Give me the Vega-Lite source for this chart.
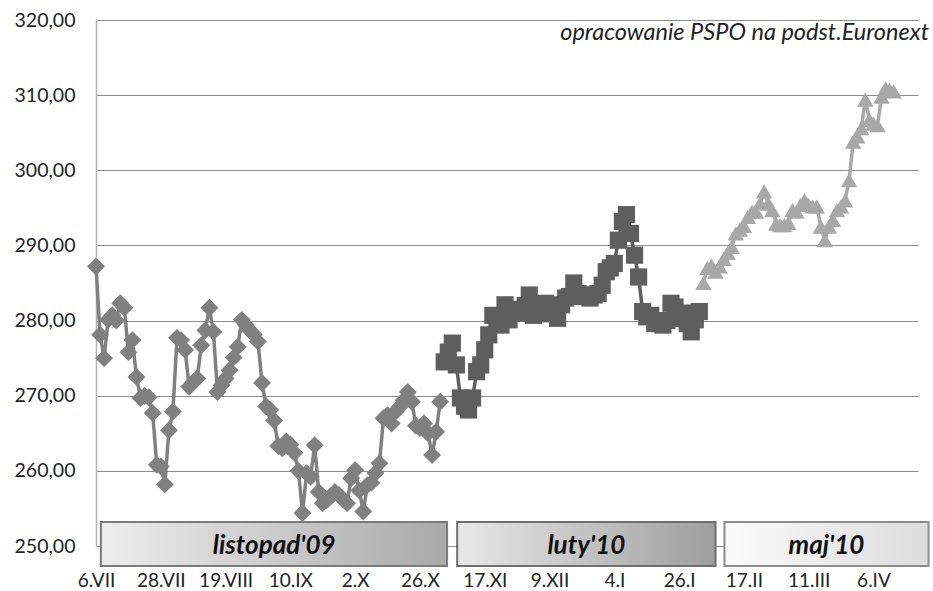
{
  "$schema": "https://vega.github.io/schema/vega-lite/v6.json",
  "width": 822,
  "height": 526,
  "autosize": "none",
  "padding": {"left": 96, "top": 20, "right": 15, "bottom": 45},
  "background": "white",
  "config": {"view": {"stroke": null}, "font": "Lato"},
  "datasets": {
    "prices": [
      {"n":0,"p":287.2,"c":"listopad'09"},{"n":1,"p":278.1,"c":"listopad'09"},{"n":2,"p":275.0,"c":"listopad'09"},{"n":3,"p":280.1,"c":"listopad'09"},{"n":4,"p":280.7,"c":"listopad'09"},{"n":5,"p":280.0,"c":"listopad'09"},{"n":6,"p":282.3,"c":"listopad'09"},{"n":7,"p":281.7,"c":"listopad'09"},{"n":8,"p":275.8,"c":"listopad'09"},{"n":9,"p":277.4,"c":"listopad'09"},
      {"n":10,"p":272.5,"c":"listopad'09"},{"n":11,"p":269.7,"c":"listopad'09"},{"n":12,"p":270.0,"c":"listopad'09"},{"n":13,"p":269.8,"c":"listopad'09"},{"n":14,"p":267.7,"c":"listopad'09"},{"n":15,"p":260.8,"c":"listopad'09"},{"n":16,"p":260.6,"c":"listopad'09"},{"n":17,"p":258.2,"c":"listopad'09"},{"n":18,"p":265.4,"c":"listopad'09"},{"n":19,"p":267.9,"c":"listopad'09"},
      {"n":20,"p":277.7,"c":"listopad'09"},{"n":21,"p":277.4,"c":"listopad'09"},{"n":22,"p":276.1,"c":"listopad'09"},{"n":23,"p":271.2,"c":"listopad'09"},{"n":24,"p":271.8,"c":"listopad'09"},{"n":25,"p":272.3,"c":"listopad'09"},{"n":26,"p":276.7,"c":"listopad'09"},{"n":27,"p":278.7,"c":"listopad'09"},{"n":28,"p":281.7,"c":"listopad'09"},{"n":29,"p":278.5,"c":"listopad'09"},
      {"n":30,"p":270.5,"c":"listopad'09"},{"n":31,"p":271.4,"c":"listopad'09"},{"n":32,"p":272.3,"c":"listopad'09"},{"n":33,"p":273.4,"c":"listopad'09"},{"n":34,"p":275.1,"c":"listopad'09"},{"n":35,"p":276.5,"c":"listopad'09"},{"n":36,"p":280.1,"c":"listopad'09"},{"n":37,"p":279.4,"c":"listopad'09"},{"n":38,"p":278.7,"c":"listopad'09"},{"n":39,"p":278.1,"c":"listopad'09"},
      {"n":40,"p":277.2,"c":"listopad'09"},{"n":41,"p":271.7,"c":"listopad'09"},{"n":42,"p":268.6,"c":"listopad'09"},{"n":43,"p":268.1,"c":"listopad'09"},{"n":44,"p":266.7,"c":"listopad'09"},{"n":45,"p":263.3,"c":"listopad'09"},{"n":46,"p":263.0,"c":"listopad'09"},{"n":47,"p":263.9,"c":"listopad'09"},{"n":48,"p":263.5,"c":"listopad'09"},{"n":49,"p":262.4,"c":"listopad'09"},
      {"n":50,"p":260.0,"c":"listopad'09"},{"n":51,"p":254.4,"c":"listopad'09"},{"n":52,"p":259.7,"c":"listopad'09"},{"n":53,"p":259.2,"c":"listopad'09"},{"n":54,"p":263.4,"c":"listopad'09"},{"n":55,"p":257.2,"c":"listopad'09"},{"n":56,"p":255.7,"c":"listopad'09"},{"n":57,"p":256.1,"c":"listopad'09"},{"n":58,"p":256.6,"c":"listopad'09"},{"n":59,"p":257.2,"c":"listopad'09"},
      {"n":60,"p":256.8,"c":"listopad'09"},{"n":61,"p":256.2,"c":"listopad'09"},{"n":62,"p":255.7,"c":"listopad'09"},{"n":63,"p":259.0,"c":"listopad'09"},{"n":64,"p":260.1,"c":"listopad'09"},{"n":65,"p":257.4,"c":"listopad'09"},{"n":66,"p":254.6,"c":"listopad'09"},{"n":67,"p":258.1,"c":"listopad'09"},{"n":68,"p":258.4,"c":"listopad'09"},{"n":69,"p":259.7,"c":"listopad'09"},
      {"n":70,"p":261.0,"c":"listopad'09"},{"n":71,"p":267.0,"c":"listopad'09"},{"n":72,"p":267.4,"c":"listopad'09"},{"n":73,"p":266.3,"c":"listopad'09"},{"n":74,"p":267.9,"c":"listopad'09"},{"n":75,"p":268.5,"c":"listopad'09"},{"n":76,"p":269.4,"c":"listopad'09"},{"n":77,"p":270.5,"c":"listopad'09"},{"n":78,"p":269.2,"c":"listopad'09"},{"n":79,"p":266.0,"c":"listopad'09"},
      {"n":80,"p":265.7,"c":"listopad'09"},{"n":81,"p":266.3,"c":"listopad'09"},{"n":82,"p":265.0,"c":"listopad'09"},{"n":83,"p":262.1,"c":"listopad'09"},{"n":84,"p":265.2,"c":"listopad'09"},{"n":85,"p":269.2,"c":"listopad'09"},
      {"n":86,"p":274.5,"c":"luty'10"},{"n":87,"p":275.8,"c":"luty'10"},{"n":88,"p":277.0,"c":"luty'10"},{"n":89,"p":274.1,"c":"luty'10"},
      {"n":90,"p":269.7,"c":"luty'10"},{"n":91,"p":268.6,"c":"luty'10"},{"n":92,"p":268.1,"c":"luty'10"},{"n":93,"p":269.7,"c":"luty'10"},{"n":94,"p":273.2,"c":"luty'10"},{"n":95,"p":274.1,"c":"luty'10"},{"n":96,"p":276.1,"c":"luty'10"},{"n":97,"p":278.1,"c":"luty'10"},{"n":98,"p":280.7,"c":"luty'10"},{"n":99,"p":279.6,"c":"luty'10"},
      {"n":100,"p":279.4,"c":"luty'10"},{"n":101,"p":282.1,"c":"luty'10"},{"n":102,"p":280.1,"c":"luty'10"},{"n":103,"p":281.2,"c":"luty'10"},{"n":104,"p":281.5,"c":"luty'10"},{"n":105,"p":281.0,"c":"luty'10"},{"n":106,"p":282.0,"c":"luty'10"},{"n":107,"p":283.4,"c":"luty'10"},{"n":108,"p":280.7,"c":"luty'10"},{"n":109,"p":281.6,"c":"luty'10"},
      {"n":110,"p":280.9,"c":"luty'10"},{"n":111,"p":282.3,"c":"luty'10"},{"n":112,"p":281.8,"c":"luty'10"},{"n":113,"p":281.0,"c":"luty'10"},{"n":114,"p":280.3,"c":"luty'10"},{"n":115,"p":282.1,"c":"luty'10"},{"n":116,"p":283.0,"c":"luty'10"},{"n":117,"p":283.2,"c":"luty'10"},{"n":118,"p":285.0,"c":"luty'10"},{"n":119,"p":283.6,"c":"luty'10"},
      {"n":120,"p":283.4,"c":"luty'10"},{"n":121,"p":283.2,"c":"luty'10"},{"n":122,"p":283.0,"c":"luty'10"},{"n":123,"p":283.4,"c":"luty'10"},{"n":124,"p":283.6,"c":"luty'10"},{"n":125,"p":284.7,"c":"luty'10"},{"n":126,"p":286.5,"c":"luty'10"},{"n":127,"p":287.0,"c":"luty'10"},{"n":128,"p":287.6,"c":"luty'10"},{"n":129,"p":290.7,"c":"luty'10"},
      {"n":130,"p":293.2,"c":"luty'10"},{"n":131,"p":294.1,"c":"luty'10"},{"n":132,"p":291.6,"c":"luty'10"},{"n":133,"p":288.7,"c":"luty'10"},{"n":134,"p":285.8,"c":"luty'10"},{"n":135,"p":281.2,"c":"luty'10"},{"n":136,"p":280.5,"c":"luty'10"},{"n":137,"p":280.7,"c":"luty'10"},{"n":138,"p":279.6,"c":"luty'10"},{"n":139,"p":279.9,"c":"luty'10"},
      {"n":140,"p":279.4,"c":"luty'10"},{"n":141,"p":280.0,"c":"luty'10"},{"n":142,"p":282.3,"c":"luty'10"},{"n":143,"p":281.8,"c":"luty'10"},{"n":144,"p":280.3,"c":"luty'10"},{"n":145,"p":281.0,"c":"luty'10"},{"n":146,"p":279.6,"c":"luty'10"},{"n":147,"p":278.5,"c":"luty'10"},{"n":148,"p":280.1,"c":"luty'10"},{"n":149,"p":281.2,"c":"luty'10"},
      {"n":150,"p":285.0,"c":"maj'10"},{"n":151,"p":287.0,"c":"maj'10"},{"n":152,"p":287.3,"c":"maj'10"},{"n":153,"p":286.5,"c":"maj'10"},{"n":154,"p":287.2,"c":"maj'10"},{"n":155,"p":288.2,"c":"maj'10"},{"n":156,"p":289.0,"c":"maj'10"},{"n":157,"p":289.8,"c":"maj'10"},{"n":158,"p":291.6,"c":"maj'10"},{"n":159,"p":292.1,"c":"maj'10"},
      {"n":160,"p":292.6,"c":"maj'10"},{"n":161,"p":293.8,"c":"maj'10"},{"n":162,"p":294.5,"c":"maj'10"},{"n":163,"p":294.5,"c":"maj'10"},{"n":164,"p":295.6,"c":"maj'10"},{"n":165,"p":297.2,"c":"maj'10"},{"n":166,"p":295.6,"c":"maj'10"},{"n":167,"p":294.7,"c":"maj'10"},{"n":168,"p":292.9,"c":"maj'10"},{"n":169,"p":292.7,"c":"maj'10"},
      {"n":170,"p":292.7,"c":"maj'10"},{"n":171,"p":293.0,"c":"maj'10"},{"n":172,"p":294.7,"c":"maj'10"},{"n":173,"p":294.5,"c":"maj'10"},{"n":174,"p":295.4,"c":"maj'10"},{"n":175,"p":296.0,"c":"maj'10"},{"n":176,"p":295.4,"c":"maj'10"},{"n":177,"p":295.2,"c":"maj'10"},{"n":178,"p":295.2,"c":"maj'10"},{"n":179,"p":292.5,"c":"maj'10"},
      {"n":180,"p":290.7,"c":"maj'10"},{"n":181,"p":292.5,"c":"maj'10"},{"n":182,"p":293.4,"c":"maj'10"},{"n":183,"p":294.7,"c":"maj'10"},{"n":184,"p":295.2,"c":"maj'10"},{"n":185,"p":296.0,"c":"maj'10"},{"n":186,"p":298.7,"c":"maj'10"},{"n":187,"p":303.8,"c":"maj'10"},{"n":188,"p":304.5,"c":"maj'10"},{"n":189,"p":305.6,"c":"maj'10"},
      {"n":190,"p":309.4,"c":"maj'10"},{"n":191,"p":306.7,"c":"maj'10"},{"n":192,"p":306.2,"c":"maj'10"},{"n":193,"p":306.0,"c":"maj'10"},{"n":194,"p":309.8,"c":"maj'10"},{"n":195,"p":310.9,"c":"maj'10"},{"n":196,"p":310.7,"c":"maj'10"},{"n":197,"p":310.5,"c":"maj'10"}
    ],
    "contracts": [
      {"c":"listopad'09","start":1.2,"end":86.7,"mid":44},
      {"c":"luty'10","start":89.2,"end":153,"mid":121.1},
      {"c":"maj'10","start":155.2,"end":205.6,"mid":180.4}
    ]
  },
  "layer": [
    {
      "data": {"name": "prices"},
      "mark": {"type": "line", "strokeWidth": 3.5},
      "encoding": {
        "x": {"field": "n", "type": "quantitative", "title": null,
          "scale": {"domain": [0, 203], "nice": false, "zero": false},
          "axis": {"title": null, "values": [0,16,32,48,64,80,96,112,128,144,160,176,192],
            "labelExpr": "['6.VII','28.VII','19.VIII','10.IX','2.X','26.X','17.XI','9.XII','4.I','26.I','17.II','11.III','6.IV'][datum.value/16]",
            "grid": false, "ticks": false, "labelPadding": 25, "labelFontSize": 19, "labelColor": "#222222",
            "labelFont": "Lato", "domainColor": "#8c8c8c", "labelFlush": false, "labelOverlap": false, "labelAngle": 0}},
        "y": {"field": "p", "type": "quantitative", "title": null,
          "scale": {"domain": [250, 320], "nice": false, "zero": false},
          "axis": {"title": null, "values": [250,260,270,280,290,300,310,320],
            "labelExpr": "replace(format(datum.value, '.2f'), '.', ',')",
            "grid": true, "gridColor": "#8c8c8c", "gridWidth": 1, "ticks": false, "labelPadding": 21,
            "labelFontSize": 19.5, "labelColor": "#222222", "labelFont": "Lato",
            "domainColor": "#b4b4b4", "domainWidth": 1.5}},
        "color": {"field": "c", "type": "nominal",
          "scale": {"domain": ["listopad'09", "luty'10", "maj'10"], "range": ["#808080", "#5e5e5e", "#a8a8a8"]},
          "legend": null}
      }
    },
    {
      "data": {"name": "prices"},
      "mark": {"type": "point", "filled": true, "opacity": 1},
      "encoding": {
        "x": {"field": "n", "type": "quantitative", "title": null},
        "y": {"field": "p", "type": "quantitative", "title": null},
        "color": {"field": "c", "type": "nominal", "legend": null},
        "shape": {"field": "c", "type": "nominal",
          "scale": {"domain": ["listopad'09", "luty'10", "maj'10"], "range": ["diamond", "square", "triangle-up"]},
          "legend": null},
        "size": {"field": "c", "type": "ordinal",
          "scale": {"domain": ["listopad'09", "luty'10", "maj'10"], "range": [320, 270, 400]},
          "legend": null}
      }
    },
    {
      "data": {"name": "contracts"},
      "transform": [{"filter": "datum.c === \"listopad'09\""}],
      "mark": {"type": "rect", "stroke": "#7a7a7a", "strokeWidth": 2,
        "fill": {"gradient": "linear", "x1": 0, "y1": 0, "x2": 1, "y2": 0,
          "stops": [{"offset": 0, "color": "#ededed"}, {"offset": 1, "color": "#a9a9a9"}]}},
      "encoding": {
        "x": {"field": "start", "type": "quantitative", "title": null},
        "x2": {"field": "end"},
        "y": {"datum": 253.2, "title": null},
        "y2": {"datum": 247.35}
      }
    },
    {
      "data": {"name": "contracts"},
      "transform": [{"filter": "datum.c === \"luty'10\""}],
      "mark": {"type": "rect", "stroke": "#6e6e6e", "strokeWidth": 2,
        "fill": {"gradient": "linear", "x1": 0, "y1": 0, "x2": 1, "y2": 0,
          "stops": [{"offset": 0, "color": "#e8e8e8"}, {"offset": 1, "color": "#9e9e9e"}]}},
      "encoding": {
        "x": {"field": "start", "type": "quantitative", "title": null},
        "x2": {"field": "end"},
        "y": {"datum": 253.2, "title": null},
        "y2": {"datum": 247.35}
      }
    },
    {
      "data": {"name": "contracts"},
      "transform": [{"filter": "datum.c === \"maj'10\""}],
      "mark": {"type": "rect", "stroke": "#8c8c8c", "strokeWidth": 2,
        "fill": {"gradient": "linear", "x1": 0, "y1": 0, "x2": 1, "y2": 0,
          "stops": [{"offset": 0, "color": "#fbfbfb"}, {"offset": 1, "color": "#dcdcdc"}]}},
      "encoding": {
        "x": {"field": "start", "type": "quantitative", "title": null},
        "x2": {"field": "end"},
        "y": {"datum": 253.2, "title": null},
        "y2": {"datum": 247.35}
      }
    },
    {
      "data": {"name": "contracts"},
      "mark": {"type": "text", "font": "Lato", "fontSize": 26, "fontStyle": "italic", "fontWeight": "bold",
        "color": "#111111", "align": "center", "baseline": "middle"},
      "encoding": {
        "x": {"field": "mid", "type": "quantitative", "title": null},
        "y": {"datum": 250.0, "title": null},
        "text": {"field": "c"}
      }
    },
    {
      "data": {"values": [{"note": "opracowanie PSPO na podst.Euronext"}]},
      "mark": {"type": "text", "font": "Lato", "fontSize": 23.5, "fontStyle": "italic",
        "color": "#222222", "align": "right", "baseline": "middle", "dx": 11},
      "encoding": {
        "x": {"datum": 203, "title": null},
        "y": {"datum": 318.3, "title": null},
        "text": {"field": "note"}
      }
    }
  ]
}
